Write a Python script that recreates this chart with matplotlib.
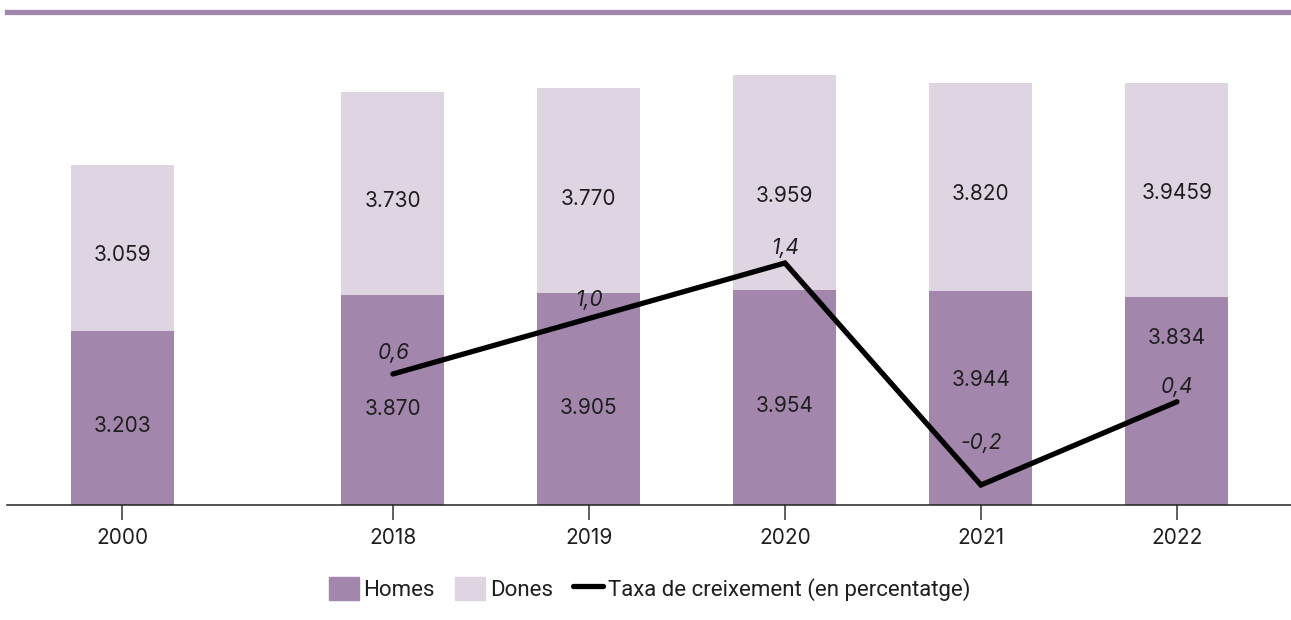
import numpy as np
import matplotlib
matplotlib.use("Agg")
import matplotlib.pyplot as plt
from matplotlib.lines import Line2D
from matplotlib.patches import Patch

# ---- data ----
years = ["2000", "2018", "2019", "2020", "2021", "2022"]
homes = [3203, 3870, 3905, 3954, 3944, 3834]
dones = [3059, 3730, 3770, 3959, 3820, 3945.9]
homes_labels = ["3.203", "3.870", "3.905", "3.954", "3.944", "3.834"]
dones_labels = ["3.059", "3.730", "3.770", "3.959", "3.820", "3.9459"]
growth = [np.nan, 0.6, 1.0, 1.4, -0.2, 0.4]

# ---- style ----
C_HOMES = "#a386ab"
C_DONES = "#dfd4e2"
TXT = "#1e1e1e"
FONT = ["Inter", "DejaVu Sans"]
plt.rcParams["font.family"] = FONT

W, H = 1291, 620
fig = plt.figure(figsize=(W / 100, H / 100), dpi=100)

# x positions: gap between 2000 and the recent years
idx = np.arange(len(years))
xpos = idx + np.where(idx > 0, 0.38, 0.0)

ax = fig.add_axes([7 / W, 115 / H, 1284 / W, 465 / H])
ax.set_xlim(-0.589, 5.962)
ax.set_ylim(0, 8564)

bw = 0.5255
ax.bar(xpos, homes, width=bw, color=C_HOMES, zorder=2)
ax.bar(xpos, dones, width=bw, bottom=homes, color=C_DONES, zorder=2)

# label offsets (pixels, up positive) to keep clear of the line
homes_off = [-8, -9, -9, -8, 18, 63]
dones_off = [-7, -7.5, -8, -13, -7, -3]
for i, x in enumerate(xpos):
    ax.annotate(homes_labels[i], (x, homes[i] / 2), xytext=(0, homes_off[i]),
                textcoords="offset pixels", ha="center", va="center",
                fontsize=15, color=TXT, zorder=5)
    ax.annotate(dones_labels[i], (x, homes[i] + dones[i] / 2), xytext=(0, dones_off[i]),
                textcoords="offset pixels", ha="center", va="center",
                fontsize=15, color=TXT, zorder=5)

for s in ["top", "right", "left"]:
    ax.spines[s].set_visible(False)
ax.spines["bottom"].set_color("#222222")
ax.spines["bottom"].set_linewidth(1.1)
ax.set_yticks([])
ax.set_xticks(xpos)
ax.set_xticklabels(years, fontsize=15, color=TXT)
ax.tick_params(axis="x", length=11, width=1.1, color="#333333", pad=5.5)

# growth line on a secondary axis
ax2 = ax.twinx()
ax2.set_ylim(-0.344, 3.007)
ax2.axis("off")
gx = xpos[1:]
gy = growth[1:]
ax2.plot(gx, gy, color="black", lw=3.8, solid_capstyle="round",
         solid_joinstyle="miter", zorder=4)
g_off = [21, 19, 15, 42, 15]
for x, v, o in zip(gx, gy, g_off):
    ax2.annotate(f"{v:.1f}".replace(".", ","), (x, v), xytext=(0, o),
                 textcoords="offset pixels", ha="center", va="center",
                 fontsize=15, style="italic", color=TXT, zorder=6)

# top decorative rule
fig.add_artist(Line2D([7 / W, 1.0], [1 - 11.5 / H, 1 - 11.5 / H],
                      transform=fig.transFigure, color=C_HOMES, lw=3.8))

handles = [Patch(color=C_HOMES, label="Homes"),
           Patch(color=C_DONES, label="Dones"),
           Line2D([0], [0], color="black", lw=3.8, solid_capstyle="round",
                  label="Taxa de creixement (en percentatge)")]
fig.legend(handles=handles, loc="center", bbox_to_anchor=(0.503, 0.05),
           ncol=3, frameon=False,
           prop={"family": ["Roboto", "DejaVu Sans"], "size": 16},
           handlelength=1.35, handleheight=1.25, handletextpad=0.22,
           columnspacing=0.9, labelcolor=TXT)

fig.savefig("out.png", dpi=100)
